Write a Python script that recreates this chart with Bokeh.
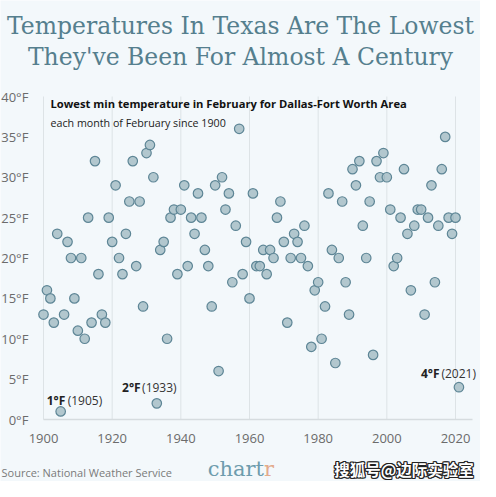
from bokeh.plotting import figure
from bokeh.models import Label, Range1d, FixedTicker
from bokeh.embed import file_html
from bokeh.resources import INLINE

# ---------------- data ----------------
years = list(range(1900, 2022))
temps = [
    13, 16, 15, 12, 23, 1, 13, 22, 20, 15,
    11, 20, 10, 25, 12, 32, 18, 13, 12, 25,
    22, 29, 20, 18, 23, 27, 32, 19, 27, 14,
    33, 34, 30, 2, 21, 22, 10, 25, 26, 18,
    26, 29, 19, 25, 23, 28, 25, 21, 19, 14,
    29, 6, 30, 26, 28, 17, 24, 36, 18, 22,
    15, 28, 19, 19, 21, 18, 21, 20, 25, 27,
    22, 12, 20, 23, 22, 20, 24, 19, 9, 16,
    17, 10, 14, 28, 21, 7, 20, 27, 17, 13,
    31, 29, 32, 24, 20, 27, 8, 32, 30, 33,
    30, 26, 19, 20, 25, 31, 23, 16, 24, 26,
    26, 13, 25, 29, 17, 24, 31, 35, 25, 23,
    25, 4,
]
x_ticks = [1900, 1920, 1940, 1960, 1980, 2000, 2020]
y_ticks = [0, 5, 10, 15, 20, 25, 30, 35, 40]
y_tick_labels = ["0°F", "5°F", "10°F", "15°F", "20°F", "25°F", "30°F", "35°F", "40°F"]

note_years = [1905, 1933, 2021]
note_values = ["1°F", "2°F", "4°F"]
note_dates = ["(1905)", "(1933)", "(2021)"]

title_lines = ["Temperatures In Texas Are The Lowest", "They've Been For Almost A Century"]
subtitle = "Lowest min temperature in February for Dallas-Fort Worth Area"
subsubtitle = "each month of February since 1900"
source = "Source: National Weather Service"
watermark = "搜狐号@边际实验室"

# ---------------- layout ----------------
BG = "#f3f8fb"
W, H = 480, 481
PX_PER_YEAR = 3.4333
PX_PER_DEG = 8.075
X_1900_PX, Y_0_PX = 43, 419          # figure pixels of (1900, 0°F)
X0 = 1900 - X_1900_PX / PX_PER_YEAR
X1 = 1900 + (W - X_1900_PX) / PX_PER_YEAR
Y0 = -(H - Y_0_PX) / PX_PER_DEG
Y1 = Y_0_PX / PX_PER_DEG


def fx(px):
    return X0 + px / PX_PER_YEAR


def fy(py):
    return (Y_0_PX - py) / PX_PER_DEG


p = figure(width=W, height=H, x_range=Range1d(X0, X1), y_range=Range1d(Y0, Y1),
           output_backend="svg", toolbar_location=None,
           min_border_left=0, min_border_right=0, min_border_top=0, min_border_bottom=0)
p.background_fill_color = BG
p.border_fill_color = BG
p.outline_line_color = None
p.xgrid.grid_line_color = None
p.ygrid.grid_line_color = None

# vertical grid lines at the x ticks, spanning the value range
p.segment(x0=x_ticks, y0=[y_ticks[0]] * len(x_ticks), x1=x_ticks, y1=[y_ticks[-1]] * len(x_ticks),
          line_color="#dde3e6", line_width=1)

p.xaxis.fixed_location = 0
p.xaxis.ticker = FixedTicker(ticks=x_ticks)
p.xaxis.bounds = (1900, 2025)
p.xaxis.axis_line_color = "#d6dcdf"
p.xaxis.axis_line_width = 1.5
p.xaxis.major_tick_line_color = None
p.xaxis.minor_tick_line_color = None
p.xaxis.major_tick_out = 0
p.xaxis.major_tick_in = 0
p.xaxis.minor_tick_out = 0
p.xaxis.major_label_standoff = 14
p.xaxis.major_label_text_font = "Open Sans"
p.xaxis.major_label_text_font_size = "13px"
p.xaxis.major_label_text_color = "#6b6b6b"

p.yaxis.fixed_location = 1898.5
p.yaxis.ticker = FixedTicker(ticks=y_ticks)
p.yaxis.major_label_overrides = {t: l for t, l in zip(y_ticks, y_tick_labels)}
p.yaxis.axis_line_color = None
p.yaxis.major_tick_line_color = None
p.yaxis.minor_tick_line_color = None
p.yaxis.major_tick_out = 0
p.yaxis.major_tick_in = 0
p.yaxis.minor_tick_out = 0
p.yaxis.major_label_standoff = 10
p.yaxis.major_label_text_font = "Open Sans"
p.yaxis.major_label_text_font_size = "13px"
p.yaxis.major_label_text_color = "#6b6b6b"

p.scatter(years, temps, size=9.5, fill_color="#abc1c9", fill_alpha=0.9,
          line_color="#5e8696", line_width=1.2)

# titles
TITLE_C = "#557f8e"
for line, py in zip(title_lines, [25, 56]):
    p.add_layout(Label(x=fx(W / 2), y=fy(py), text=line, text_align="center",
                       text_baseline="middle", text_font="DejaVu Serif",
                       text_font_size="23.5px", text_color=TITLE_C))

p.add_layout(Label(x=fx(50), y=fy(103), text=subtitle, text_align="left",
                   text_baseline="middle", text_font="Open Sans", text_font_style="bold",
                   text_font_size="11.2px", text_color="#111111"))
p.add_layout(Label(x=fx(50), y=fy(122), text=subsubtitle, text_align="left",
                   text_baseline="middle", text_font="Open Sans",
                   text_font_size="10.7px", text_color="#222222"))

# annotations for the record lows
bold_off = [-14, -34.7, -38]
reg_off = [7, -14.7, -17.5]
lift = [1.4, 2.0, 1.73]
for yr, v, d, bo, ro, lf in zip(note_years, note_values, note_dates, bold_off, reg_off, lift):
    t = temps[years.index(yr)]
    p.add_layout(Label(x=yr, y=t + lf, x_offset=bo, text=v, text_align="left",
                       text_baseline="middle", text_font="Open Sans", text_font_style="bold",
                       text_font_size="12px", text_color="#222222"))
    p.add_layout(Label(x=yr, y=t + lf, x_offset=ro, text=d, text_align="left",
                       text_baseline="middle", text_font="Open Sans",
                       text_font_size="12px", text_color="#333333"))

# footer
p.add_layout(Label(x=fx(1), y=fy(472), text=source, text_align="left",
                   text_baseline="middle", text_font="Open Sans",
                   text_font_size="11px", text_color="#7a7a7a"))
p.add_layout(Label(x=fx(263.5), y=fy(468.5), text="chart", text_align="right",
                   text_baseline="middle", text_font="DejaVu Serif",
                   text_font_size="21px", text_color="#6e9cad"))
p.add_layout(Label(x=fx(263.5), y=fy(468.5), text="r", text_align="left",
                   text_baseline="middle", text_font="DejaVu Serif",
                   text_font_size="21px", text_color="#e3ab8c"))
WM_X, WM_Y = fx(403.5), fy(468)
for dx, dy in [(-1, 0), (1, 0), (0, -1), (0, 1), (-1, -1), (1, 1), (-1, 1), (1, -1)]:
    p.add_layout(Label(x=WM_X, y=WM_Y, x_offset=dx, y_offset=dy, text=watermark,
                       text_align="center", text_baseline="middle",
                       text_font="Noto Sans CJK SC", text_font_style="bold",
                       text_font_size="15.5px", text_color="#222222"))
p.add_layout(Label(x=WM_X, y=WM_Y, text=watermark,
                   text_align="center", text_baseline="middle",
                   text_font="Noto Sans CJK SC", text_font_style="bold",
                   text_font_size="15.5px", text_color="#ffffff"))

open("out.html", "w").write(file_html(p, INLINE))
